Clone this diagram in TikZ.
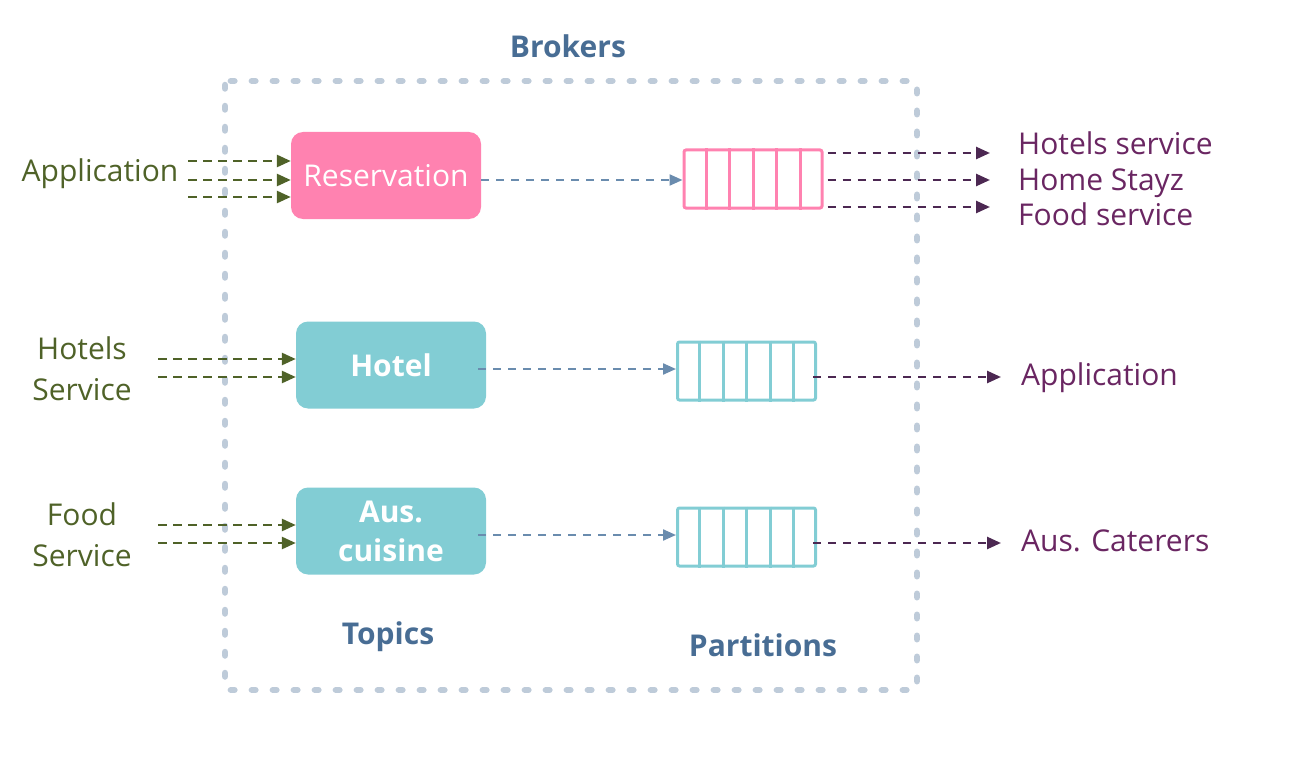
\documentclass[tikz,border=0pt]{standalone}
\usepackage{fontspec}
\setmainfont{Open Sans}
\usetikzlibrary{arrows.meta,positioning,calc}
\definecolor{brk}{RGB}{190,203,217}
\definecolor{lblue}{RGB}{72,109,148}
\definecolor{pinkc}{RGB}{255,130,176}
\definecolor{tealc}{RGB}{130,205,212}
\definecolor{greenc}{RGB}{79,98,40}
\definecolor{purpt}{RGB}{106,38,98}
\definecolor{purpa}{RGB}{76,40,82}
\definecolor{bluea}{RGB}{106,140,174}
\tikzset{
  txt/.style={font=\fontsize{30}{41}\selectfont, inner sep=0pt, align=center},
  hdr/.style={font=\fontsize{30}{36}\selectfont\bfseries, text=lblue, inner sep=0pt},
  topic/.style={draw=none, rounded corners=12pt, minimum width=190pt, minimum height=87pt, text=white, inner sep=0pt, align=center, font=\fontsize{30}{39}\selectfont},
  part/.style={draw=#1, line width=3pt, rounded corners=2pt, minimum width=138pt, minimum height=58pt, inner sep=0pt},
  garrow/.style={draw=greenc, line width=2.6pt, dash pattern=on 9pt off 6pt, -{Triangle[length=14pt,width=12pt]}},
  barrow/.style={draw=bluea, line width=2.2pt, dash pattern=on 8pt off 7pt, -{Triangle[length=13pt,width=11pt]}},
  parrow/.style={draw=purpa, line width=2.6pt, dash pattern=on 8pt off 7pt, -{Triangle[length=14pt,width=12pt]}},
}
\begin{document}
\begin{tikzpicture}[x=1pt,y=-1pt]
\useasboundingbox (0,0) rectangle (1312,765);
% broker frame
\draw[brk, line width=6.5pt, line cap=round, dash pattern=on 3.5pt off 17.5pt, rounded corners=4pt] (225,81) rectangle (917,690);
\node[hdr] (brokers) at (568,46) {Brokers};
\node[hdr] (topics) at (388,637) {Topics};
\node[hdr] (partitions) at (763,645) {Partitions};

% topics
\node[topic, fill=pinkc] (res) at (386,175.5) {Reservation};
\node[topic, fill=tealc, font=\fontsize{30}{39}\selectfont\bfseries] (hotel) at (391,365) {Hotel};
\node[topic, fill=tealc, font=\fontsize{30}{39}\selectfont\bfseries] (aus) at (391,531) {Aus.\\cuisine};

% partitions
\node[part=pinkc] (p1) at (753,179) {};
\node[part=tealc] (p2) at (746.5,371) {};
\node[part=tealc] (p3) at (746.5,537) {};
\foreach \p/\cc in {p1/pinkc,p2/tealc,p3/tealc}{
  \foreach \i in {1,...,5}{
    \draw[line width=3pt, draw=\cc] ($(\p.north west)!{\i/6}!(\p.north east)$) -- ($(\p.south west)!{\i/6}!(\p.south east)$);
  }
}

% left labels
\node[txt, text=greenc] (app) at (100,174) {Application};
\node[txt, text=greenc] (hs) at (82,369) {Hotels\\Service};
\node[txt, text=greenc] (fs) at (82,535) {Food\\Service};

\coordinate (a1) at (188,161);
\coordinate (a2) at (188,180);
\coordinate (a3) at (188,197);
\foreach \c in {a1,a2,a3} \draw[garrow] (\c) -- (\c -| res.west);
\coordinate (h1) at (158,359);
\coordinate (h2) at (158,377);
\foreach \c in {h1,h2} \draw[garrow] (\c) -- (\c -| hotel.west);
\coordinate (f1) at (158,525);
\coordinate (f2) at (158,543);
\foreach \c in {f1,f2} \draw[garrow] (\c) -- (\c -| aus.west);

% topic -> partition
\draw[barrow] ([yshift=-4.5pt]res.east) -- ([yshift=-4.5pt]res.east -| p1.west);
\draw[barrow] ([xshift=-8pt,yshift=-4pt]hotel.east) -- ([yshift=-4pt]hotel.east -| p2.west);
\draw[barrow] ([xshift=-8pt,yshift=-4pt]aus.east) -- ([yshift=-4pt]aus.east -| p3.west);

% right labels
\node[txt, text=purpt, anchor=west] (o1) at (1018,143) {Hotels service};
\node[txt, text=purpt, anchor=west] (o2) at (1018,183) {Home Stayz};
\node[txt, text=purpt, anchor=west] (o3) at (1018,214) {Food service};
\node[txt, text=purpt, anchor=west] (o4) at (1021,378) {Application};
\node[txt, text=purpt, anchor=west] (o5) at (1021,541) {Aus. Caterers};

\coordinate (e1) at (990,153);
\coordinate (e2) at (990,180);
\coordinate (e3) at (990,207);
\foreach \c in {e1,e2,e3} \draw[parrow] ([xshift=4pt]\c -| p1.east) -- (\c);
\coordinate (e4) at (1001,377);
\coordinate (e5) at (1001,543);
\draw[parrow] ([xshift=-4pt]e4 -| p2.east) -- (e4);
\draw[parrow] ([xshift=-4pt]e5 -| p3.east) -- (e5);
\end{tikzpicture}
\end{document}
